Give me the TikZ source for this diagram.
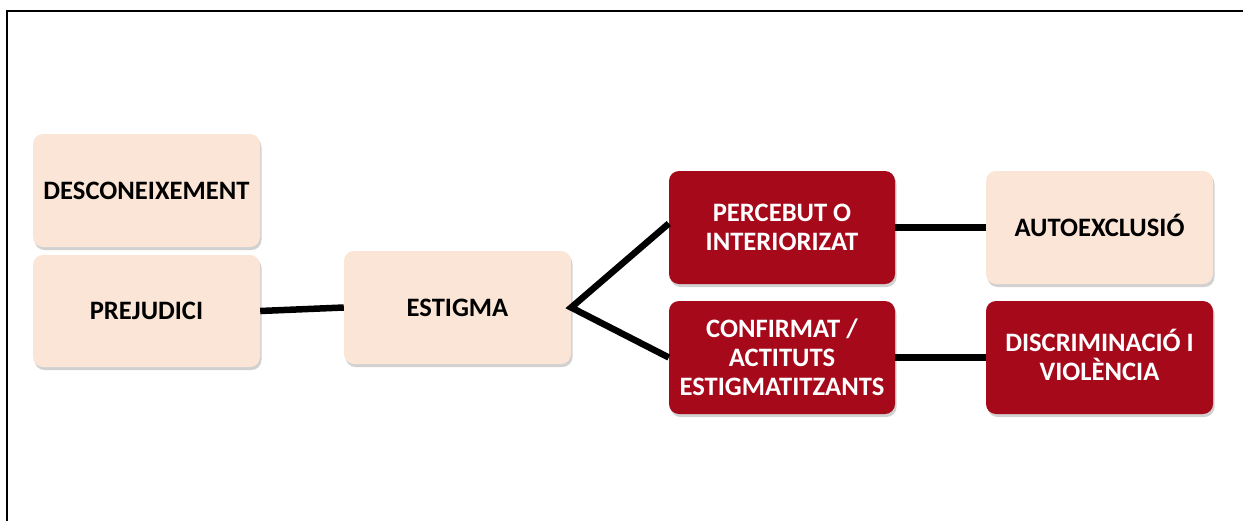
\documentclass[tikz,border=0pt]{standalone}
\usepackage{fontspec}
\setmainfont{Carlito}
\usetikzlibrary{shadows}
\definecolor{peach}{HTML}{FBE5D6}
\definecolor{darkred}{HTML}{A6091A}
\begin{document}
\begin{tikzpicture}[x=1pt,y=-1pt,
  box/.style={rectangle, rounded corners=10pt, minimum width=227pt, minimum height=113pt,
    align=center, font=\fontsize{26.6}{29}\selectfont\bfseries, inner sep=0pt,
    drop shadow={shadow xshift=1.5pt, shadow yshift=-3pt, fill=black, opacity=0.18}},
  light/.style={box, fill=peach, text=black},
  dark/.style={box, fill=darkred, text=white},
  link/.style={line width=6.5pt, black, line join=miter}]
\useasboundingbox (0,0) rectangle (1243,520);
\fill[white] (0,0) rectangle (1243,520);
\coordinate (fa) at (6.8,525);
\coordinate (fb) at (6.8,11.2);
\coordinate (fc) at (1250,11.2);
\draw[line width=2.2pt] (fa) -- (fb) -- (fc);
\node[light] (desc) at (146.5,190.5) {DESCONEIXEMENT};
\node[light, minimum height=112pt] (prej) at (146.5,311) {PREJUDICI};
\node[light] (est) at (457.5,307.5) {ESTIGMA};
\node[dark, minimum width=226pt] (perc) at (782,227.5) {PERCEBUT O\\INTERIORIZAT};
\node[dark, minimum width=226pt] (conf) at (782,357.5) {CONFIRMAT /\\ACTITUTS\\ESTIGMATITZANTS};
\node[light] (auto) at (1099.5,227.5) {AUTOEXCLUSI\smash{Ó}};
\node[dark] (disc) at (1099.5,357.5) {DISCRIMINACI\smash{Ó} I\\VIOLÈNCIA};
\draw[link] (prej.east) -- (est.west);
\draw[link] ([yshift=4pt]perc.west) -- (est.east) -- (conf.west);
\draw[link] (perc.east) -- (auto.west);
\draw[link] (conf.east) -- (disc.west);
\end{tikzpicture}
\end{document}
